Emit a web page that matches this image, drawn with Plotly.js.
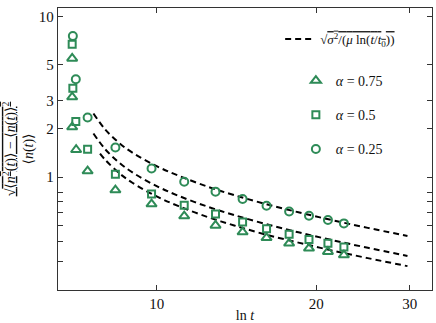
<!DOCTYPE html>
<html>
<head>
<meta charset="utf-8">
<script src="https://cdn.plot.ly/plotly-3.0.1.min.js"></script>
<style>
  html, body { margin: 0; padding: 0; background: #fff; }
  #plot { width: 436px; height: 323px; }
</style>
</head>
<body>
<div id="plot"></div>
<script>
// ln t values and fluctuation ratio
const triX = [6.93, 6.93, 6.93, 7.05, 7.41, 8.36, 9.78, 11.27, 12.91, 14.52, 16.11, 17.77, 19.37, 21.03, 22.54];
const triY = [5.48, 3.15, 2.05, 1.48, 1.09, 0.83, 0.679, 0.572, 0.50, 0.455, 0.419, 0.387, 0.36, 0.343, 0.327];

const sqX = [6.93, 6.95, 7.04, 7.41, 8.36, 9.78, 11.27, 12.91, 14.52, 16.11, 17.77, 19.37, 21.03, 22.54];
const sqY = [6.73, 3.57, 2.22, 1.49, 1.04, 0.786, 0.669, 0.59, 0.525, 0.477, 0.44, 0.409, 0.387, 0.367];

const circX = [6.95, 7.04, 7.41, 8.36, 9.78, 11.27, 12.91, 14.52, 16.11, 17.77, 19.37, 21.03, 22.54];
const circY = [7.55, 4.07, 2.35, 1.53, 1.13, 0.935, 0.812, 0.73, 0.663, 0.611, 0.574, 0.54, 0.515];

// dashed fit curves (read at a few points along each)
const fitX = [7.60, 8.0, 8.5, 9.0, 10, 11, 12.5, 14, 16, 18.5, 21.5, 25, 29.7];
const fitTop = [2.49, 1.98, 1.63, 1.42, 1.17, 1.02, 0.87, 0.772, 0.682, 0.604, 0.538, 0.483, 0.43];
const fitMid = [1.87, 1.49, 1.23, 1.07, 0.879, 0.764, 0.653, 0.58, 0.512, 0.453, 0.404, 0.363, 0.323];
const fitLowX = [7.82, 8.0, 8.5, 9.0, 10, 11, 12.5, 14, 16, 18.5, 21.5, 25, 29.7];
const fitLow = [1.40, 1.28, 1.058, 0.922, 0.758, 0.659, 0.563, 0.50, 0.44, 0.391, 0.348, 0.313, 0.279];

const yTicks = [0.3, 0.4, 0.5, 0.6, 0.7, 0.8, 1, 2, 3, 5, 10];
const yTickText = [' ', ' ', ' ', ' ', ' ', ' ', '1', '2', '3', '5', '10'];
const xTicks = [10, 20, 30];

const green = '#2e8b57';
const serif = 'Liberation Serif, DejaVu Serif, serif';

const dashLine = { color: '#000', width: 2, dash: '6px,4px', shape: 'spline' };

const traces = [
    { x: fitX, y: fitTop, mode: 'lines', line: dashLine, legend: 'legend2',
      name: '√<span style="text-decoration:overline"><i>σ</i><sup>2</sup>/(<i>μ</i> ln(<i>t</i>/<i>t</i><sub>0</sub>))</span>' },
    { x: fitX, y: fitMid, mode: 'lines', line: dashLine, showlegend: false },
    { x: fitLowX, y: fitLow, mode: 'lines', line: dashLine, showlegend: false },
    { x: triX, y: triY, mode: 'markers', name: '<i>α</i> = 0.75', legendgroup: 'a',
      marker: { symbol: 'triangle-up-open', size: 9, color: green, line: { width: 2, color: green } } },
    { x: sqX, y: sqY, mode: 'markers', name: '<i>α</i> = 0.5', legendgroup: 'b',
      marker: { symbol: 'square-open', size: 7, color: green, line: { width: 2, color: green } } },
    { x: circX, y: circY, mode: 'markers', name: '<i>α</i> = 0.25', legendgroup: 'c',
      marker: { symbol: 'circle-open', size: 8, color: green, line: { width: 2, color: green } } }
];

const axisCommon = {
    type: 'log',
    showgrid: false,
    zeroline: false,
    showline: true,
    linecolor: '#333',
    linewidth: 1.3,
    mirror: 'ticks',
    ticks: 'inside',
    ticklen: 5,
    tickcolor: '#333',
    tickfont: { family: serif, size: 15, color: '#111' }
};

const layout = {
    width: 436,
    height: 323,
    margin: { l: 58, r: 4, t: 8, b: 33 },
    paper_bgcolor: '#fff',
    plot_bgcolor: '#fff',
    font: { family: serif, color: '#111' },
    xaxis: Object.assign({}, axisCommon, {
        range: [0.814, 1.519],
        tickmode: 'array',
        tickvals: xTicks,
        ticktext: xTicks.map(String),
        title: { text: 'ln <i>t</i>', font: { family: serif, size: 14 }, standoff: 4 }
    }),
    yaxis: Object.assign({}, axisCommon, {
        range: [-0.703, 1.053],
        tickmode: 'array',
        tickvals: yTicks,
        ticktext: yTickText,
        title: {
            text: '<span style="text-decoration:underline">√<span style="text-decoration:overline">⟨<i>n</i><sup>2</sup>(<i>t</i>)⟩ − ⟨<i>n</i>(<i>t</i>)⟩<sup>2</sup></span></span><br>⟨<i>n</i>(<i>t</i>)⟩',
            font: { family: serif, size: 14 },
            standoff: 2
        }
    }),
    legend: {
        x: 0.636, y: 0.798, xanchor: 'left', yanchor: 'top',
        bgcolor: 'rgba(0,0,0,0)', borderwidth: 0,
        font: { family: serif, size: 14 },
        traceorder: 'grouped', tracegroupgap: 13
    },
    legend2: {
        x: 0.594, y: 0.943, xanchor: 'left', yanchor: 'top',
        bgcolor: 'rgba(0,0,0,0)', borderwidth: 0,
        font: { family: serif, size: 13 }
    },
    showlegend: true
};

Plotly.newPlot('plot', traces, layout, { displayModeBar: false, staticPlot: true });
</script>
</body>
</html>
